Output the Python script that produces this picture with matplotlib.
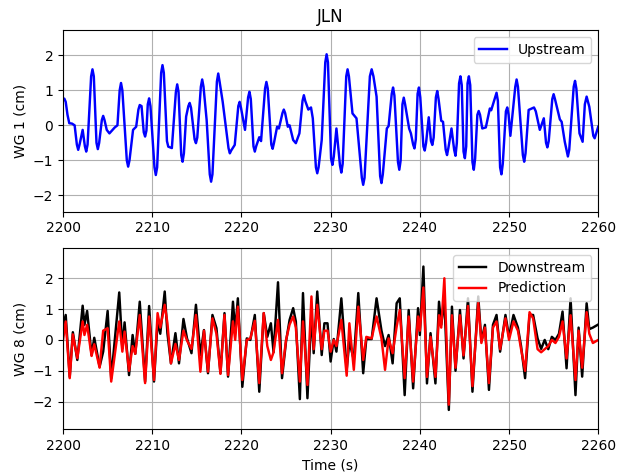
import numpy as np
import matplotlib
matplotlib.use('Agg')
import matplotlib.pyplot as plt

# upstream gauge WG 1
t_up = [2200.0, 2200.15, 2200.3, 2200.5, 2200.7, 2201.0, 2201.3, 2201.55, 2201.7, 2201.85,
        2202.2, 2202.45, 2202.6, 2202.75, 2203.15, 2203.3, 2203.45, 2203.75, 2203.9, 2204.05,
        2204.35, 2204.5, 2204.65, 2204.9, 2205.2, 2205.8, 2206.1, 2206.35, 2206.5, 2206.65,
        2207.15, 2207.3, 2207.45, 2207.85, 2208.2, 2208.45, 2208.6, 2208.8, 2209.05, 2209.2,
        2209.35, 2209.5, 2209.65, 2209.8, 2210.25, 2210.4, 2210.55, 2211.0, 2211.15, 2211.3,
        2211.65, 2211.8, 2212.2, 2212.65, 2212.8, 2212.95, 2213.25, 2213.4, 2213.55, 2213.8,
        2214.05, 2214.2, 2214.35, 2214.75, 2214.9, 2215.05, 2215.45, 2215.6, 2215.75, 2216.1,
        2216.45, 2216.6, 2216.75, 2217.25, 2217.4, 2217.55, 2217.9, 2218.55, 2218.7, 2218.85,
        2219.25, 2219.65, 2219.8, 2219.95, 2220.4, 2220.75, 2220.9, 2221.05, 2221.35, 2221.5,
        2221.65, 2222.0, 2222.2, 2222.65, 2222.8, 2222.95, 2223.35, 2223.5, 2223.65, 2224.0,
        2224.2, 2224.6, 2224.75, 2224.9, 2225.2, 2225.4, 2225.8, 2226.1, 2226.5, 2226.85,
        2227.0, 2227.15, 2227.5, 2227.8, 2228.0, 2228.35, 2228.5, 2228.65, 2229.0, 2229.4,
        2229.55, 2229.7, 2230.05, 2230.2, 2230.35, 2230.65, 2231.05, 2231.2, 2231.35, 2231.75,
        2231.9, 2232.05, 2232.45, 2232.9, 2233.5, 2233.65, 2233.8, 2234.4, 2234.6, 2234.8,
        2235.15, 2235.55, 2235.7, 2235.85, 2236.3, 2236.5, 2236.85, 2237.0, 2237.15, 2237.55,
        2237.7, 2237.85, 2238.05, 2238.2, 2238.35, 2238.8, 2239.0, 2239.25, 2239.4, 2239.55,
        2239.75, 2239.9, 2240.05, 2240.4, 2240.55, 2240.7, 2241.0, 2241.25, 2241.4, 2241.55,
        2241.8, 2241.95, 2242.1, 2242.4, 2242.6, 2242.9, 2243.05, 2243.2, 2243.55, 2243.85,
        2244.0, 2244.15, 2244.4, 2244.55, 2244.7, 2244.9, 2245.05, 2245.2, 2245.35, 2245.5,
        2245.65, 2245.9, 2246.05, 2246.2, 2246.45, 2246.6, 2246.75, 2247.0, 2247.4, 2247.85,
        2248.0, 2248.45, 2248.6, 2248.75, 2249.0, 2249.15, 2249.3, 2249.65, 2249.8, 2249.95,
        2250.15, 2250.7, 2250.85, 2251.0, 2251.55, 2251.7, 2251.85, 2252.2, 2252.8, 2253.0,
        2253.45, 2253.9, 2254.15, 2254.3, 2254.45, 2254.85, 2255.0, 2255.15, 2255.7, 2255.9,
        2256.25, 2256.6, 2256.75, 2257.25, 2257.4, 2257.55, 2257.9, 2258.25, 2258.5, 2258.7,
        2259.0, 2259.45, 2259.6, 2259.8, 2260.0]
wg1 = [0.77, 0.76, 0.67, 0.30, 0.06, 0.05, 0.0, -0.55, -0.70, -0.55,
       -0.13, -0.60, -0.75, -0.55, 1.40, 1.60, 1.40, -0.50, -0.68, -0.50,
       0.15, 0.27, 0.15, -0.13, -0.23, -0.06, 0.0, 1.00, 1.21, 1.00,
       -1.00, -1.18, -1.00, -0.13, -0.04, 0.45, 0.58, 0.55, -0.20, -0.32,
       -0.15, 0.60, 0.77, 0.55, -1.20, -1.42, -1.20, 1.50, 1.72, 1.50,
       -0.45, -0.61, -0.65, 0.95, 1.17, 0.95, -0.85, -1.04, -0.80, 0.25,
       0.55, 0.64, 0.50, -0.40, -0.51, -0.35, 1.10, 1.31, 1.10, 0.15,
       -1.40, -1.61, -1.40, 1.25, 1.48, 1.25, 0.67, -0.65, -0.80, -0.72,
       -0.56, 0.55, 0.67, 0.50, -0.13, 0.80, 0.96, 0.75, -0.60, -0.75,
       -0.60, -0.34, -0.45, 1.05, 1.24, 1.05, -0.55, -0.67, -0.50, -0.04,
       -0.09, 0.35, 0.45, 0.35, -0.04, 0.0, -0.42, -0.51, -0.23, 0.70,
       0.86, 0.70, 0.45, 0.51, 0.20, -1.20, -1.37, -1.20, -0.42, 1.80,
       2.03, 1.80, -0.95, -1.13, -0.90, -0.09, -1.15, -1.35, -1.10, 1.40,
       1.60, 1.40, 0.34, 0.20, -1.50, -1.70, -1.50, 1.40, 1.60, 1.40,
       0.82, -1.45, -1.65, -1.40, -0.09, -0.02, 0.90, 1.08, 0.85, -1.05,
       -1.27, -1.00, 0.60, 0.79, 0.60, -0.09, -0.23, -0.55, -0.66, -0.40,
       0.90, 1.08, 0.80, -0.60, -0.72, -0.50, 0.23, -0.45, -0.56, -0.35,
       0.80, 0.98, 0.75, 0.13, 0.10, -0.70, -0.85, -0.65, -0.09, -0.70,
       -0.87, -0.50, 1.20, 1.40, 1.15, -0.75, -0.94, -0.60, 1.20, 1.40,
       1.15, -1.05, -1.27, -0.95, 0.30, 0.41, 0.30, -0.09, -0.06, 0.48,
       0.43, 0.80, 0.93, 0.70, -1.20, -1.40, -1.10, 0.40, 0.51, 0.30,
       -0.30, 1.10, 1.31, 1.10, -0.85, -1.04, -0.80, 0.44, 0.51, 0.40,
       -0.13, 0.20, -0.50, -0.63, -0.45, 0.75, 0.89, 0.75, 0.17, 0.10,
       -0.47, -0.89, -0.70, 1.10, 1.27, 1.05, -0.23, -0.47, 0.60, 0.82,
       0.53, -0.30, -0.37, -0.20, -0.04]

# downstream gauge WG 8 and model prediction
t_dn = [2200.0, 2200.3, 2200.75, 2201.1, 2201.6, 2202.2, 2202.4, 2202.7, 2203.2, 2203.5,
        2204.1, 2204.5, 2205.0, 2205.4, 2206.3, 2206.65, 2206.9, 2207.4, 2207.8, 2208.1,
        2208.6, 2209.2, 2209.65, 2210.2, 2210.6, 2210.9, 2211.4, 2211.7, 2212.1, 2212.6,
        2213.0, 2213.5, 2213.9, 2214.4, 2214.9, 2215.4, 2215.8, 2216.25, 2216.75, 2217.2,
        2217.65, 2218.1, 2218.5, 2219.05, 2219.3, 2219.6, 2220.1, 2220.6, 2221.0, 2221.5,
        2222.0, 2222.5, 2222.9, 2223.3, 2223.6, 2224.1, 2224.55, 2225.0, 2225.4, 2225.8,
        2226.1, 2226.55, 2226.9, 2227.4, 2227.85, 2228.1, 2228.5, 2229.0, 2229.3, 2229.65,
        2230.0, 2230.35, 2230.65, 2231.2, 2231.8, 2232.1, 2232.6, 2233.1, 2233.65, 2234.0,
        2234.6, 2235.15, 2235.7, 2236.1, 2236.5, 2236.95, 2237.4, 2237.75, 2238.3, 2238.75,
        2239.25, 2239.8, 2240.0, 2240.4, 2240.8, 2241.2, 2241.75, 2242.15, 2242.4, 2242.75,
        2243.25, 2243.6, 2244.0, 2244.5, 2244.9, 2245.4, 2245.9, 2246.55, 2246.9, 2247.3,
        2247.75, 2248.2, 2248.6, 2249.0, 2249.6, 2250.0, 2250.5, 2251.0, 2251.35, 2251.8,
        2252.3, 2252.7, 2253.2, 2253.6, 2254.0, 2254.4, 2254.8, 2255.2, 2255.6, 2256.0,
        2256.45, 2256.9, 2257.45, 2257.8, 2258.2, 2258.7, 2259.0, 2259.4, 2260.0]
wg8 = [0.45, 0.81, -1.2, 0.25, -0.65, 1.11, 0.49, 0.94, -0.49, 0.07,
       -0.87, -0.38, 0.94, -1.24, 1.54, -0.27, 0.57, -1.14, 0.16, -0.45,
       1.24, -1.35, 1.10, -1.35, 0.60, 0.20, 1.57, 0.22, -0.76, 0.22,
       -0.76, 0.68, 0.05, -0.43, 1.14, -0.49, 0.32, -1.08, 0.81, 0.38,
       -1.08, 0.87, -1.19, 1.24, 0.27, 1.35, -1.52, 0.05, 0.0, 0.81,
       -1.68, 0.87, 0.10, 0.54, -0.40, 1.87, -1.24, -0.05, 0.65, 1.03,
       0.60, -1.92, 1.52, -1.89, 0.90, -0.43, 1.57, -0.49, 0.54, 0.54,
       -0.70, 0.03, -0.38, 1.35, -0.97, -0.05, -0.65, 1.52, -1.08, 0.03,
       0.03, 1.35, 0.30, -0.20, 0.16, -0.76, 1.19, 1.35, -1.79, 0.97,
       -1.57, 1.03, 0.16, 2.38, -1.41, 0.22, -1.41, 1.24, 0.49, 1.30,
       -2.27, 1.08, -1.00, 0.97, -0.60, 1.35, -1.68, 1.41, -0.05, 0.49,
       -1.62, 0.49, 0.81, -0.38, 0.81, 0.10, 0.81, 0.40, -0.20, -1.24,
       0.81, 0.81, 0.05, -0.29, 0.0, -0.30, 0.10, 0.0, 0.20, 0.92,
       -0.92, 1.35, -1.79, 0.40, -1.19, 1.19, 0.35, 0.40, 0.50]
pred = [0.0, 0.60, -1.24, 0.18, -0.59, 0.60, 0.16, 0.49, -0.52, -0.14,
        -0.90, 0.30, 0.38, -1.35, 0.60, -0.38, 0.27, -1.00, -0.20, -0.45,
        0.81, -1.40, 0.76, -1.30, 0.87, 0.40, 1.14, 0.55, -0.76, -0.13,
        -0.65, 0.30, -0.02, -0.29, 0.81, -1.03, 0.30, -1.03, 0.70, 0.20,
        -1.10, 0.81, -1.14, 0.60, 0.0, 1.08, -1.30, 0.0, 0.05, 0.62,
        -1.40, 0.87, -0.20, -0.65, -0.40, 0.65, -1.08, 0.0, 0.50, 0.76,
        0.40, -1.35, 0.60, -1.46, 1.41, -0.30, 1.14, -0.30, 0.30, 0.30,
        -0.38, 0.0, -0.20, 0.65, -1.16, 0.54, -0.97, 1.08, -0.65, 0.10,
        0.05, 0.76, 0.05, -0.97, 0.05, -0.43, 0.43, 0.97, -1.24, 0.76,
        -1.35, 0.76, 0.30, 1.70, -1.20, 0.10, -1.20, 0.80, 0.40, 2.00,
        -2.10, 0.80, -0.90, 0.80, -0.50, 1.10, -1.50, 1.20, -0.10, 0.40,
        -1.40, 0.40, 0.60, -0.30, 0.70, 0.0, 0.60, 0.30, -0.30, -1.00,
        0.90, 0.70, -0.30, -0.40, -0.30, -0.20, 0.0, -0.10, 0.10, 0.60,
        -0.60, 0.80, -1.30, 0.30, -0.90, 0.90, 0.20, -0.10, 0.0]

fig, (ax1, ax2) = plt.subplots(2, 1, figsize=(6.18, 4.76), dpi=100)
fig.subplots_adjust(left=0.102, right=0.968, top=0.936, bottom=0.098, hspace=0.2)

ax1.plot(t_up, wg1, '-', color='blue', lw=1.75, label='Upstream')
ax1.set_xlim(2200, 2260)
ax1.set_ylim(-2.47, 2.71)
ax1.set_ylabel('WG 1 (cm)')
ax1.set_title('JLN')
ax1.grid(True)
ax1.legend(loc='upper right')

ax2.plot(t_dn, wg8, '-', color='black', lw=1.75, label='Downstream')
ax2.plot(t_dn, pred, '-', color='red', lw=1.75, label='Prediction')
ax2.set_xlim(2200, 2260)
ax2.set_ylim(-2.90, 2.98)
ax2.set_ylabel('WG 8 (cm)')
ax2.set_xlabel('Time (s)')
ax2.grid(True)
ax2.legend(loc='upper right')

for ax in (ax1, ax2):
    ax.set_yticks([-2, -1, 0, 1, 2])

fig.savefig('out.png')
